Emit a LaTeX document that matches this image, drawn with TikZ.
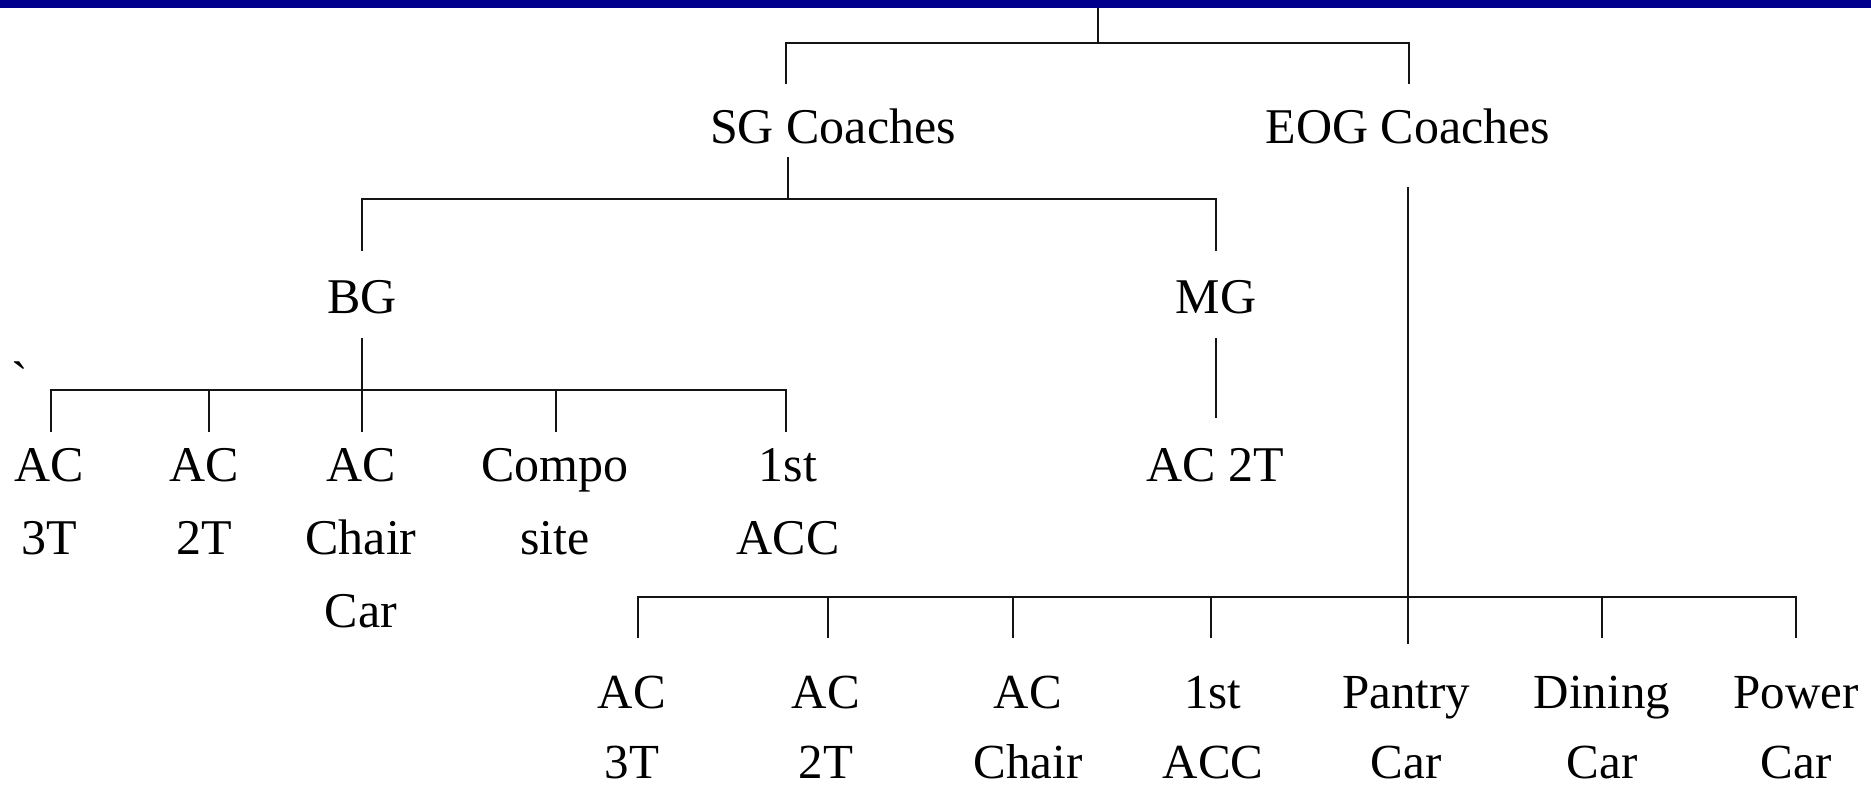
\documentclass[tikz,border=0pt]{standalone}
\usepackage{fontspec}
\setmainfont{Liberation Serif}
\definecolor{barblue}{RGB}{0,0,140}
\definecolor{linec}{RGB}{20,20,20}
\begin{document}
\begin{tikzpicture}[x=1pt,y=-1pt,
  conn/.style={draw=linec,line width=2.4pt},
  lbl/.style={inner sep=0pt,anchor=north,align=center,font=\fontsize{50}{73}\selectfont},
  lblb/.style={inner sep=0pt,anchor=north,align=center,font=\fontsize{49}{70}\selectfont}]
\useasboundingbox (0,0) rectangle (1871,785);
\fill[barblue] (0,0) rectangle (1871,8);
% coordinates
\coordinate (root) at (1098,8);
\coordinate (rootj) at (1098,43);
\coordinate (sgtop) at (786,84);
\coordinate (eogtop) at (1409,84);
% level 1
\node[lbl] (sg) at (833,109) {SG Coaches};
\node[lbl] (eog) at (1408,109) {EOG Coaches};
\draw[conn] (root) -- (rootj);
\draw[conn] (sgtop) |- (rootj) -| (eogtop);
% level 2
\coordinate (sgb) at (788,157);
\coordinate (sgj) at (788,199);
\coordinate (bgtop) at (362,251);
\coordinate (mgtop) at (1216,251);
\node[lbl] (bg) at (362,280) {BG};
\node[lbl] (mg) at (1216,280) {MG};
\draw[conn] (sgb) -- (sgj);
\draw[conn] (bgtop) |- (sgj) -| (mgtop);
% BG children
\coordinate (bgb) at (362,338);
\coordinate (bgj) at (362,390);
\coordinate (c1) at (51,432);
\coordinate (c2) at (209,432);
\coordinate (c3) at (362,432);
\coordinate (c4) at (556,432);
\coordinate (c5) at (786,432);
\node[lbl] (b1) at (49,448) {AC\\3T};
\node[lbl] (b2) at (204,448) {AC\\2T};
\node[lbl] (b3) at (361,448) {AC\\Chair\\Car};
\node[lbl] (b4) at (555,448) {Compo\\site};
\node[lbl] (b5) at (788,448) {1st\\ACC};
\node[font=\fontsize{50}{60}\selectfont,inner sep=0pt,anchor=north] (tick) at (20,362) {\textasciigrave};
\draw[conn] (bgb) -- (c3);
\draw[conn] (c1) |- (bgj) -| (c5);
\draw[conn] (c2) |- (bgj);
\draw[conn] (c4) |- (bgj);
% MG child
\coordinate (mgb) at (1216,338);
\coordinate (mgc) at (1216,418);
\node[lbl] (m1) at (1215,448) {AC 2T};
\draw[conn] (mgb) -- (mgc);
% EOG children
\coordinate (eogb) at (1408,187);
\coordinate (eogj) at (1408,597);
\coordinate (e1) at (638,638);
\coordinate (e2) at (828,638);
\coordinate (e3) at (1013,638);
\coordinate (e4) at (1211,638);
\coordinate (e5) at (1408,644);
\coordinate (e6) at (1602,638);
\coordinate (e7) at (1796,638);
\node[lblb] (d1) at (632,676) {AC\\3T};
\node[lblb] (d2) at (826,676) {AC\\2T};
\node[lblb] (d3) at (1028,676) {AC\\Chair};
\node[lblb] (d4) at (1213,676) {1st\\ACC};
\node[lblb] (d5) at (1406,676) {Pantry\\Car};
\node[lblb] (d6) at (1602,676) {Dining\\Car};
\node[lblb] (d7) at (1796,676) {Power\\Car};
\draw[conn] (eogb) -- (e5);
\draw[conn] (e1) |- (eogj) -| (e7);
\draw[conn] (e2) |- (eogj);
\draw[conn] (e3) |- (eogj);
\draw[conn] (e4) |- (eogj);
\draw[conn] (e6) |- (eogj);
\end{tikzpicture}
\end{document}
